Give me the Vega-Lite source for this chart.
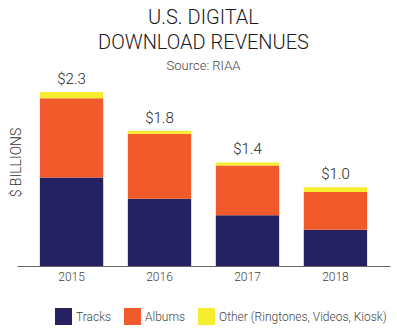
{
  "$schema": "https://vega.github.io/schema/vega-lite/v6.json",
  "autosize": "none",
  "width": 373,
  "height": 186,
  "padding": {"left": 17, "top": 80, "right": 7, "bottom": 65},
  "background": "white",
  "title": {
    "text": ["U.S. DIGITAL", "DOWNLOAD REVENUES"],
    "subtitle": "Source: RIAA",
    "font": "Roboto",
    "fontSize": 20,
    "fontWeight": 300,
    "lineHeight": 25,
    "color": "#1a1a1a",
    "subtitleFont": "Roboto",
    "subtitleFontSize": 13,
    "subtitleFontWeight": 300,
    "subtitleColor": "#444",
    "subtitlePadding": 7,
    "anchor": "middle",
    "offset": -1
  },
  "data": {
    "values": [
      {"year": "2015", "type": "Tracks", "ord": 1, "value": 1.17},
      {"year": "2015", "type": "Albums", "ord": 2, "value": 1.05},
      {"year": "2015", "type": "Other (Ringtones, Videos, Kiosk)", "ord": 3, "value": 0.08},
      {"year": "2016", "type": "Tracks", "ord": 1, "value": 0.89},
      {"year": "2016", "type": "Albums", "ord": 2, "value": 0.86},
      {"year": "2016", "type": "Other (Ringtones, Videos, Kiosk)", "ord": 3, "value": 0.04},
      {"year": "2017", "type": "Tracks", "ord": 1, "value": 0.67},
      {"year": "2017", "type": "Albums", "ord": 2, "value": 0.66},
      {"year": "2017", "type": "Other (Ringtones, Videos, Kiosk)", "ord": 3, "value": 0.04},
      {"year": "2018", "type": "Tracks", "ord": 1, "value": 0.48},
      {"year": "2018", "type": "Albums", "ord": 2, "value": 0.50},
      {"year": "2018", "type": "Other (Ringtones, Videos, Kiosk)", "ord": 3, "value": 0.06}
    ]
  },
  "encoding": {
    "x": {
      "field": "year",
      "type": "nominal",
      "scale": {"paddingInner": 0.28, "paddingOuter": 0.26},
      "axis": {
        "title": null,
        "labelAngle": 0,
        "labelFont": "Roboto",
        "labelFontSize": 12,
        "labelFontWeight": 300,
        "labelColor": "#444",
        "labelPadding": 5,
        "ticks": false,
        "domainColor": "#666",
        "domainWidth": 1
      }
    }
  },
  "layer": [
    {
      "mark": {"type": "bar"},
      "encoding": {
        "y": {
          "field": "value",
          "type": "quantitative",
          "aggregate": "sum",
          "stack": "zero",
          "scale": {"domain": [0, 2.46], "nice": false},
          "axis": {
            "title": "$ BILLIONS",
            "titleFont": "Roboto",
            "titleFontSize": 14,
            "titleFontWeight": 300,
            "titleColor": "#333",
            "labels": false,
            "ticks": false,
            "domain": false,
            "grid": false,
            "titlePadding": 0,
            "titleX": 6,
            "titleY": 82
          }
        },
        "color": {
          "field": "type",
          "type": "nominal",
          "sort": ["Tracks", "Albums", "Other (Ringtones, Videos, Kiosk)"],
          "scale": {
            "domain": ["Tracks", "Albums", "Other (Ringtones, Videos, Kiosk)"],
            "range": ["#262262", "#f15a2b", "#f6ed2f"]
          },
          "legend": {
            "title": null,
            "orient": "none",
            "legendX": 38,
            "legendY": 228,
            "direction": "horizontal",
            "symbolType": "square",
            "symbolSize": 289,
            "symbolStrokeWidth": 0,
            "labelFont": "Roboto",
            "labelFontSize": 12,
            "labelFontWeight": 300,
            "labelColor": "#444",
            "labelOffset": 4,
            "labelLimit": 300,
            "columnPadding": 12
          }
        },
        "order": {"field": "ord", "type": "quantitative", "sort": "ascending"}
      }
    },
    {
      "mark": {"type": "text", "dy": -5, "baseline": "bottom", "font": "Roboto", "fontSize": 15, "fontWeight": 300, "color": "#222"},
      "encoding": {
        "y": {"field": "value", "type": "quantitative", "aggregate": "sum"},
        "text": {"field": "value", "type": "quantitative", "aggregate": "sum", "format": "$.1f"}
      }
    }
  ],
  "config": {"view": {"stroke": null}}
}
